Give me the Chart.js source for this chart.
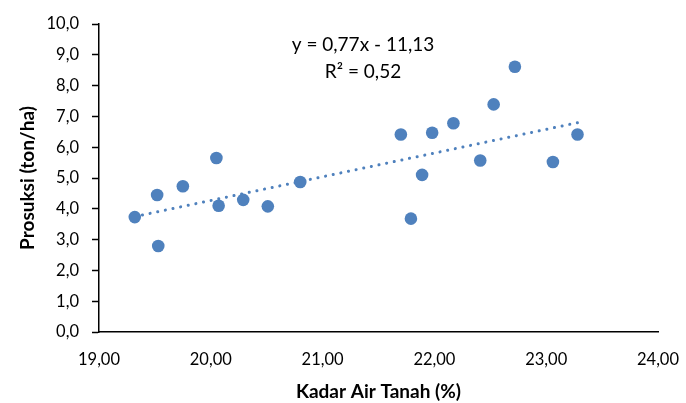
<!DOCTYPE html>
<html>
<head>
<meta charset="utf-8">
<script src="https://cdn.jsdelivr.net/npm/chart.js@4/dist/chart.umd.min.js"></script>
<style>
  html, body { margin: 0; padding: 0; background: #fff; }
  #wrap { width: 686px; height: 403px; }
</style>
</head>
<body>
<div id="wrap"><canvas id="chart" width="686" height="403"></canvas></div>
<script>
// data
const kadarAir = [19.32, 19.52, 19.53, 19.75, 20.05, 20.07, 20.29, 20.51, 20.80,
  21.70, 21.79, 21.89, 21.98, 22.17, 22.41, 22.53, 22.72, 23.06, 23.28];
const produksi = [3.73, 4.45, 2.79, 4.73, 5.65, 4.10, 4.29, 4.08, 4.87,
  6.41, 3.68, 5.10, 6.47, 6.78, 5.57, 7.39, 8.61, 5.52, 6.41];
const slope = 0.77;
const intercept = -11.13;
const eqLabels = ['y = 0,77x - 11,13', 'R² = 0,52'];
const xTicks = [19, 20, 21, 22, 23, 24];
const yTicks = [0, 1, 2, 3, 4, 5, 6, 7, 8, 9, 10];

const FONT = 'Lato, "Open Sans", sans-serif';
const BLUE = '#4F81BD';

const points = kadarAir.map((x, i) => ({ x: x, y: produksi[i] }));
const xMin = Math.min(...kadarAir);
const xMax = Math.max(...kadarAir);
const trend = [xMin, xMax].map(x => ({ x: x, y: slope * x + intercept }));

// teks persamaan regresi
const eqPlugin = {
  id: 'eq',
  afterDatasetsDraw(chart) {
    const ctx = chart.ctx;
    ctx.save();
    ctx.font = '19px ' + FONT;
    ctx.fillStyle = '#000';
    ctx.textAlign = 'center';
    ctx.textBaseline = 'middle';
    ctx.fillText(eqLabels[0], 363, 45);
    ctx.fillText(eqLabels[1], 363, 72);
    ctx.restore();
  }
};

new Chart(document.getElementById('chart'), {
  type: 'scatter',
  data: {
    datasets: [{
      data: points,
      backgroundColor: BLUE,
      borderColor: BLUE,
      pointRadius: 6.3,
      pointBorderWidth: 0
    }, {
      data: trend,
      showLine: true,
      pointRadius: 0,
      borderColor: BLUE,
      borderWidth: 3,
      borderDash: [0.1, 7.7],
      borderCapStyle: 'round',
      fill: false
    }]
  },
  options: {
    responsive: false,
    animation: false,
    events: [],
    layout: { padding: { left: 0, top: 24, right: 28, bottom: 0 } },
    plugins: { legend: { display: false }, tooltip: { enabled: false } },
    scales: {
      x: {
        type: 'linear',
        min: 19, max: 24,
        afterBuildTicks: s => { s.ticks = xTicks.map(v => ({ value: v })); },
        afterFit: s => { s.height = 71; s.paddingRight = 10; s.paddingLeft = 0; },
        grid: { display: true, drawOnChartArea: false, drawTicks: false },
        border: { color: '#000', width: 1.5 },
        ticks: {
          color: '#000', padding: 18,
          font: { family: FONT, size: 16.5 },
          callback: v => v.toFixed(2).replace('.', ',')
        },
        title: {
          display: true, text: 'Kadar Air Tanah (%)', color: '#000',
          font: { family: FONT, size: 19, weight: 'bold' },
          padding: { top: 8, bottom: 0 }
        }
      },
      y: {
        min: 0, max: 10,
        afterBuildTicks: s => { s.ticks = yTicks.map(v => ({ value: v })); },
        afterFit: s => { s.width = 99; },
        grid: { display: true, drawOnChartArea: false, drawTicks: true, tickLength: 7, color: '#000', tickWidth: 1.5 },
        border: { color: '#000', width: 1.5 },
        ticks: {
          color: '#000', padding: 13,
          font: { family: FONT, size: 16.5 },
          callback: v => v.toFixed(1).replace('.', ',')
        },
        title: {
          display: true, text: 'Prosuksi (ton/ha)', color: '#000',
          font: { family: FONT, size: 19, weight: 'bold' },
          padding: { top: 16, bottom: 4 }
        }
      }
    }
  },
  plugins: [eqPlugin]
});
</script>
</body>
</html>
